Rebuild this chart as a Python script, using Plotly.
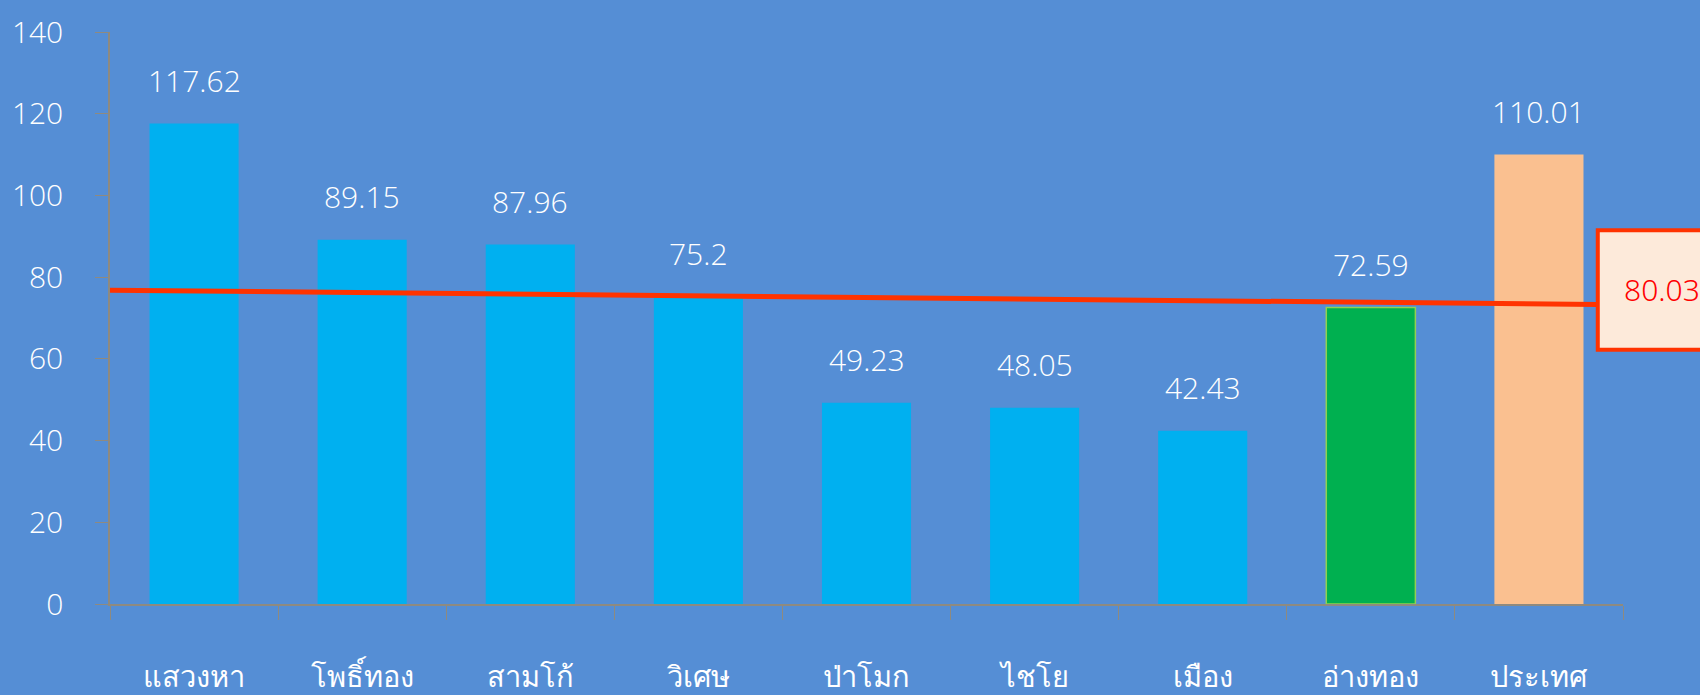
import plotly.graph_objects as go

# categories and values
districts = ["แสวงหา", "โพธิ์ทอง", "สามโก้", "วิเศษ", "ป่าโมก", "ไชโย", "เมือง", "อ่างทอง", "ประเทศ"]
values = [117.62, 89.15, 87.96, 75.2, 49.23, 48.05, 42.43, 72.59, 110.01]
bar_colors = ["#00B0F0"] * 7 + ["#00B050", "#FAC090"]
bar_lines = ["rgba(0,0,0,0)"] * 7 + ["#92D050", "rgba(0,0,0,0)"]

# red reference line (start / end) and its callout value
line_x = [-0.5, 8.35]
line_y = [76.8, 73.3]
callout_text = "80.03"

BG = "#558ED5"
AXIS = "#8E8A80"
FONT = "Open Sans, Noto Sans, sans-serif"

idx = list(range(len(districts)))
bounds = [i - 0.5 for i in range(len(districts) + 1)]

fig = go.Figure()
fig.add_trace(go.Bar(
    x=idx, y=values, width=0.53,
    marker=dict(color=bar_colors, line=dict(color=bar_lines, width=1.5)),
    hoverinfo="skip",
))
fig.add_trace(go.Scatter(
    x=line_x, y=line_y, mode="lines",
    line=dict(color="#FF3300", width=5),
    hoverinfo="skip", cliponaxis=False,
))

for i, v in zip(idx, values):
    fig.add_annotation(
        x=i, y=v, text=f"{v:g}", showarrow=False, yshift=43,
        font=dict(color="white", size=30, family=FONT, weight=300),
    )

# callout box at the end of the red line (paper x so it can run off the page)
x_left = (line_x[1] + 0.5) / 9
fig.add_shape(
    type="rect", xref="paper", yref="y",
    x0=x_left, x1=1.25, y0=62.2, y1=91.5,
    line=dict(color="#FF3300", width=4), fillcolor="#FDEADA",
    layer="above",
)
fig.add_annotation(
    x=x_left + 0.0425, y=77.0, xref="paper", yref="y", text=callout_text,
    showarrow=False, xanchor="center",
    font=dict(color="#FF0000", size=30, family="Noto Sans, sans-serif"),
)

fig.update_layout(
    width=1700, height=695,
    paper_bgcolor=BG, plot_bgcolor=BG,
    margin=dict(l=110, r=77, t=32, b=91),
    showlegend=False,
    font=dict(family=FONT, color="white", size=30, weight=300),
)
fig.update_xaxes(
    range=[-0.5, 8.5], tickmode="array", tickvals=idx, ticktext=districts,
    showgrid=False, zeroline=False, automargin=False,
    showline=True, linecolor=AXIS, linewidth=1.5,
    ticks="", tickfont=dict(size=29, color="white", weight=300),
    ticklabelstandoff=46,
    minor=dict(tickmode="array", tickvals=bounds, ticks="outside",
               ticklen=14, tickcolor=AXIS, tickwidth=1, showgrid=False),
)
fig.update_yaxes(
    range=[0, 140], dtick=20, showgrid=False, zeroline=False, automargin=False,
    showline=True, linecolor=AXIS, linewidth=1.5,
    ticks="outside", ticklen=13, tickcolor=AXIS, tickwidth=1,
    tickfont=dict(size=30, color="white", weight=300),
    ticklabelstandoff=26,
)

fig.write_html("out.html", config={"displayModeBar": False},
               post_script="document.body.style.margin='0';")
